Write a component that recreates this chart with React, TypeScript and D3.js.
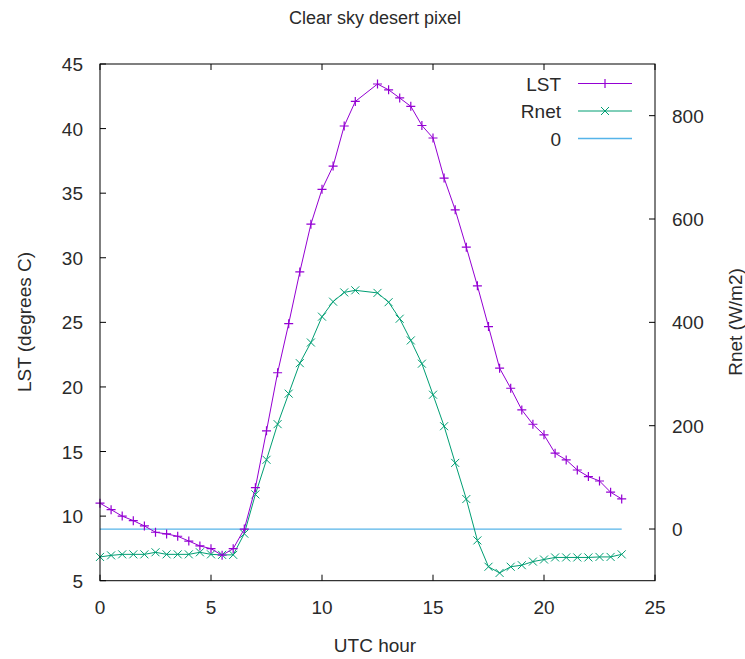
import React from "react";
import * as d3 from "d3";

const hours: number[] = [
  0, 0.5, 1, 1.5, 2, 2.5, 3, 3.5, 4, 4.5, 5, 5.5, 6, 6.5, 7, 7.5, 8, 8.5, 9, 9.5, 10, 10.5, 11, 11.5,
  12.5, 13, 13.5, 14, 14.5, 15, 15.5, 16, 16.5, 17, 17.5, 18, 18.5, 19, 19.5, 20, 20.5, 21, 21.5, 22, 22.5, 23, 23.5,
];
const lst: number[] = [
  11.0, 10.5, 10.0, 9.65, 9.24, 8.75, 8.62, 8.44, 8.07, 7.69, 7.48, 6.97, 7.48, 9.0, 12.2, 16.6, 21.1, 24.9, 28.9, 32.6, 35.3, 37.1, 40.2, 42.1,
  43.45, 43.0, 42.37, 41.72, 40.24, 39.27, 36.17, 33.71, 30.82, 27.83, 24.67, 21.45, 19.9, 18.22, 17.11, 16.29, 14.87, 14.35, 13.57, 13.06, 12.72, 11.85, 11.33,
];
const rnet: number[] = [
  -54, -51, -49, -49, -49, -45, -49, -49, -49, -45, -49, -50, -50, -9, 67, 134, 203, 262, 321, 361, 411, 440, 458, 462,
  457, 439, 407, 365, 320, 260, 199, 128, 58, -22, -73, -85, -73, -70, -63, -59, -55, -55, -55, -55, -54, -54, -49,
];
const zeroLine: number[] = hours.map(() => 0);

const xTicks = [0, 5, 10, 15, 20, 25];
const yTicks = [5, 10, 15, 20, 25, 30, 35, 40, 45];
const y2Ticks = [0, 200, 400, 600, 800];

const C_LST = "#9400d3";
const C_RNET = "#009e73";
const C_ZERO = "#56b4e9";
const FONT = "'Liberation Sans', Arial, sans-serif";
const TXT = "#2a2a2a";

export default function App() {
  const W = 745, H = 659;
  const L = 100, R = 655, T = 64, B = 580.7;
  const x = d3.scaleLinear().domain([0, 25]).range([L, R]);
  const y = d3.scaleLinear().domain([5, 45]).range([B, T]);
  const y2 = d3.scaleLinear().domain([-100, 900]).range([B, T]);

  const lineL = d3.line<number>().x((_, i) => x(hours[i])).y((d) => y(d));
  const lineR = d3.line<number>().x((_, i) => x(hours[i])).y((d) => y2(d));

  const plus = (cx: number, cy: number, c: string, k: string) => (
    <path key={k} d={`M${cx - 4.5},${cy}H${cx + 4.5}M${cx},${cy - 4.5}V${cy + 4.5}`} stroke={c} strokeWidth={1.2} fill="none" />
  );
  const cross = (cx: number, cy: number, c: string, k: string) => (
    <path key={k} d={`M${cx - 4},${cy - 4}L${cx + 4},${cy + 4}M${cx - 4},${cy + 4}L${cx + 4},${cy - 4}`} stroke={c} strokeWidth={1} fill="none" />
  );

  const tick = 6;
  const legendY = [83.5, 111, 138.5];

  return (
    <svg width={W} height={H} style={{ display: "block", position: "absolute", left: 0, top: 0 }} fontFamily={FONT}>
      <rect width={W} height={H} fill="#fff" />
      <text x={375} y={24} textAnchor="middle" fontSize={18} fill={TXT}>Clear sky desert pixel</text>

      {/* ticks */}
      {xTicks.map((t) => (
        <g key={"x" + t}>
          <line x1={x(t)} x2={x(t)} y1={B} y2={B - tick} stroke="#000" />
          <line x1={x(t)} x2={x(t)} y1={T} y2={T + tick} stroke="#000" />
          <text x={x(t)} y={614} textAnchor="middle" fontSize={19} fill={TXT}>{t}</text>
        </g>
      ))}
      {yTicks.map((t) => (
        <g key={"y" + t}>
          <line x1={L} x2={L + tick} y1={y(t)} y2={y(t)} stroke="#000" />
          <text x={83} y={y(t) + 7} textAnchor="end" fontSize={19} fill={TXT}>{t}</text>
        </g>
      ))}
      {y2Ticks.map((t) => (
        <g key={"y2" + t}>
          <line x1={R} x2={R - tick} y1={y2(t)} y2={y2(t)} stroke="#000" />
          <text x={672} y={y2(t) + 7} textAnchor="start" fontSize={19} fill={TXT}>{t}</text>
        </g>
      ))}

      {/* series */}
      <path d={lineR(zeroLine) || ""} stroke={C_ZERO} strokeWidth={1.3} fill="none" />
      <path d={lineR(rnet) || ""} stroke={C_RNET} strokeWidth={1} fill="none" />
      {rnet.map((v, i) => cross(x(hours[i]), y2(v), C_RNET, "r" + i))}
      <path d={lineL(lst) || ""} stroke={C_LST} strokeWidth={1} fill="none" />
      {lst.map((v, i) => plus(x(hours[i]), y(v), C_LST, "l" + i))}

      {/* frame */}
      <rect x={L} y={T} width={R - L} height={B - T} fill="none" stroke="#000" strokeWidth={1} />

      {/* legend */}
      <text x={561} y={legendY[0] + 7} textAnchor="end" fontSize={19} fill={TXT}>LST</text>
      <line x1={578} x2={632} y1={legendY[0]} y2={legendY[0]} stroke={C_LST} />
      {plus(605, legendY[0], C_LST, "lg1")}
      <text x={561} y={legendY[1] + 7} textAnchor="end" fontSize={19} fill={TXT}>Rnet</text>
      <line x1={578} x2={632} y1={legendY[1]} y2={legendY[1]} stroke={C_RNET} />
      {cross(605, legendY[1], C_RNET, "lg2")}
      <text x={561} y={legendY[2] + 7} textAnchor="end" fontSize={19} fill={TXT}>0</text>
      <line x1={578} x2={632} y1={legendY[2]} y2={legendY[2]} stroke={C_ZERO} strokeWidth={1.3} />

      {/* axis labels */}
      <text x={375} y={652} textAnchor="middle" fontSize={19} fill={TXT}>UTC hour</text>
      <text transform={`translate(31,322) rotate(-90)`} textAnchor="middle" fontSize={19} fill={TXT}>LST (degrees C)</text>
      <text transform={`translate(742,322) rotate(-90)`} textAnchor="middle" fontSize={19} fill={TXT}>Rnet (W/m2)</text>
    </svg>
  );
}
